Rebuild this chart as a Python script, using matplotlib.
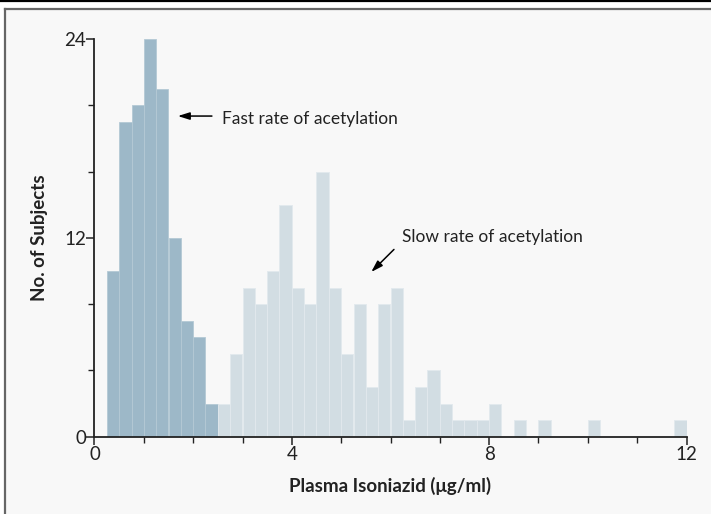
import numpy as np
import matplotlib
matplotlib.use("Agg")
import matplotlib.pyplot as plt
from matplotlib.lines import Line2D
from matplotlib.patches import Rectangle

# Data: histogram of plasma isoniazid, bins of 0.25 ug/ml
bin_width = 0.25
fast_start = 0.25
fast_counts = [10, 19, 20, 24, 21, 12, 7, 6, 2]
slow_start = 2.5
slow_counts = [2, 5, 9, 8, 10, 14, 9, 8, 16, 9, 5, 8, 3, 8, 9,
               1, 3, 4, 2, 1, 1, 1, 2, 0, 1, 0, 1, 0, 0, 0,
               1, 0, 0, 0, 0, 0, 0, 1]

x_major = [0, 4, 8, 12]
y_major = [0, 12, 24]

fast_color = "#9db8c8"
slow_color = "#d2dde3"
bg = "#f8f8f8"
ink = "#222222"

plt.rcParams["font.family"] = ["Lato", "DejaVu Sans"]

fig = plt.figure(figsize=(7.11, 5.14), dpi=100, facecolor="white")
# frame background and borders
fig.add_artist(Rectangle((6 / 711, 0), 1, 1 - 9 / 514, transform=fig.transFigure,
                         facecolor=bg, edgecolor="none", zorder=-10))
fig.add_artist(Line2D([0, 1], [1 - 1 / 514, 1 - 1 / 514], transform=fig.transFigure,
                      color="black", lw=1.6))
fig.add_artist(Line2D([5 / 711, 1], [1 - 9 / 514, 1 - 9 / 514], transform=fig.transFigure,
                      color="#666666", lw=1.6))
fig.add_artist(Line2D([5 / 711, 5 / 711], [0, 1 - 9 / 514], transform=fig.transFigure,
                      color="#666666", lw=1.6))

ax = fig.add_axes([94.5 / 711, 77.3 / 514, 592 / 711, 397.7 / 514])
ax.set_facecolor(bg)

fast_x = fast_start + bin_width * np.arange(len(fast_counts))
slow_x = slow_start + bin_width * np.arange(len(slow_counts))
ax.bar(fast_x, fast_counts, width=bin_width, align="edge", color=fast_color,
       edgecolor="#b4c9d5", linewidth=0.6)
ax.bar(slow_x, slow_counts, width=bin_width, align="edge", color=slow_color,
       edgecolor="#e2e9ed", linewidth=0.6)

ax.set_xlim(0, 12)
ax.set_ylim(0, 24)
for s in ["top", "right"]:
    ax.spines[s].set_visible(False)
for s in ["left", "bottom"]:
    ax.spines[s].set_color(ink)
    ax.spines[s].set_linewidth(1.3)

ax.set_xticks(x_major)
ax.set_xticks(np.arange(0, 13, 1), minor=True)
ax.set_yticks(y_major)
ax.set_yticks(np.arange(0, 25, 4), minor=True)
ax.tick_params(axis="both", which="major", length=5.5, width=1.1, color=ink,
               labelsize=13.5, labelcolor=ink)
ax.tick_params(axis="x", which="major", pad=1.5)
ax.tick_params(axis="y", which="major", pad=0.5)
ax.tick_params(axis="both", which="minor", length=4.2, width=1.0, color=ink)

ax.set_xlabel("Plasma Isoniazid (\u03bcg/ml)", fontsize=13.5, fontweight="bold",
              color=ink)
ax.xaxis.set_label_coords(0.5, -0.10)
ax.set_ylabel("No. of Subjects", fontsize=13.5, fontweight="bold", color=ink)
ax.yaxis.set_label_coords(-0.078, 0.5)

arrow = dict(arrowstyle="-|>,head_length=0.7,head_width=0.22",
             color="black", lw=1.1, shrinkA=0, shrinkB=0)
ax.annotate("", xy=(1.69, 19.35), xytext=(2.38, 19.35), arrowprops=arrow)
ax.text(2.59, 19.2, "Fast rate of acetylation", fontsize=12.5, color=ink,
        va="center", ha="left")
ax.annotate("", xy=(5.61, 9.94), xytext=(6.07, 11.3), arrowprops=arrow)
ax.text(6.24, 12.05, "Slow rate of acetylation", fontsize=12.5, color=ink,
        va="center", ha="left")

fig.savefig("out.png", dpi=100, facecolor=fig.get_facecolor())
